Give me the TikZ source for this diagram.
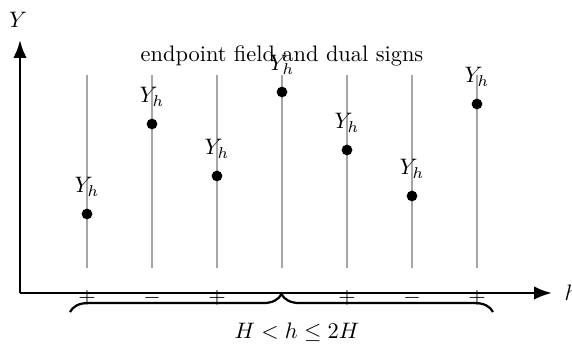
\documentclass[tikz,border=0pt]{standalone}
\usetikzlibrary{arrows.meta,decorations.pathreplacing}
\begin{document}
\begin{tikzpicture}[x=0.0157cm,y=-0.0157cm,
  axis/.style={line width=1.1pt,-{Latex[length=8pt,width=6pt]}},
  stick/.style={gray!70,line width=0.8pt},
  pt/.style={circle,fill=black,inner sep=0pt,minimum size=4.8pt},
  lab/.style={inner sep=1pt},
  sgn/.style={inner sep=0pt}]
\useasboundingbox (0,0) rectangle (572,350);
\coordinate (o) at (20,293);
\coordinate (yt) at (20,40);
\coordinate (xt) at (552,293);
\draw[axis] (o) -- (yt);
\draw[axis] (o) -- (xt);
\node[lab] (ylab) at (18,20) {$Y$};
\node[lab,anchor=west] (hlab) at (562,293) {$h$};
\node[lab] (title) at (282,56) {endpoint field and dual signs};
\foreach \i/\x/\y/\s in {1/87/214/+,2/152/124/-,3/217/176/+,4/282/92/,5/347/150/+,6/412/196/-,7/477/104/+}{
  \coordinate (b\i) at (\x,268);
  \coordinate (t\i) at (\x,75);
  \draw[stick] (b\i) -- (t\i);
  \node[pt] (d\i) at (\x,\y) {};
  \node[lab] (l\i) at (\x,\y-27) {$Y_h$};
  \node[sgn] (s\i) at (\x,298) {$\s$};
}
\coordinate (bl) at (70,312);
\coordinate (br) at (493,312);
\draw[line width=1pt,decorate,decoration={brace,mirror,amplitude=8pt,raise=0pt}] (br) -- (bl);
\node[lab] (range) at (297,332) {$H<h\le 2H$};
\end{tikzpicture}
\end{document}
